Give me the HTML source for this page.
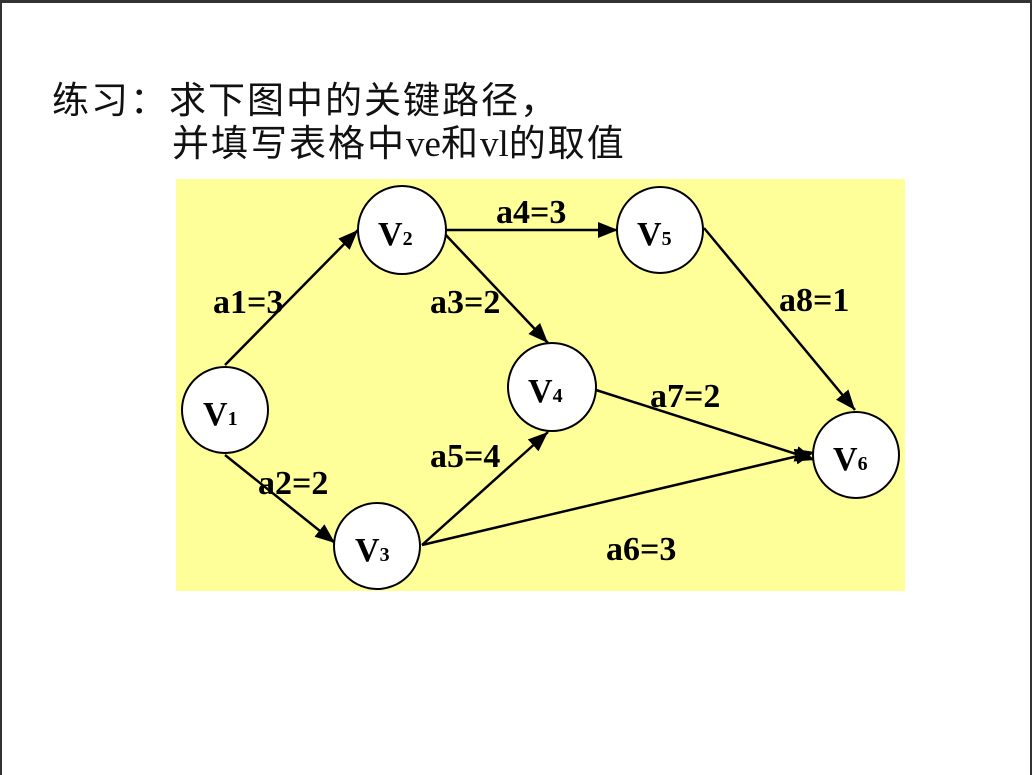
<!DOCTYPE html>
<html><head><meta charset="utf-8"><style>
body{margin:0;width:1032px;height:775px;background:#fff;position:relative;overflow:hidden}
.t{position:absolute;font-family:"Liberation Sans","Noto Sans CJK SC",sans-serif;font-size:37px;letter-spacing:2px;color:#111;white-space:nowrap}
.s{font-family:"Liberation Serif",serif;letter-spacing:0}
</style></head><body>
<div style="position:absolute;left:0;top:0;width:1032px;height:3px;background:#333"></div>
<div style="position:absolute;left:0;top:0;width:2px;height:775px;background:#333"></div>
<div style="position:absolute;left:1030px;top:0;width:2px;height:775px;background:#333"></div>
<div class="t" style="left:52px;top:70px">练习：求下图中的关键路径，</div>
<div class="t" style="left:172px;top:113px">并填写表格中<span class="s">ve</span>和<span class="s">vl</span>的取值</div>
<svg width="1032" height="775" style="position:absolute;left:0;top:0">
<defs><marker id="a" markerWidth="20" markerHeight="16" refX="20" refY="8" orient="auto" markerUnits="userSpaceOnUse" viewBox="0 0 20 16"><path d="M0,0L20,8L0,16z" fill="#000"/></marker></defs>
<rect x="176" y="179" width="729" height="412" fill="#ffff99"/>
<g stroke="#000" stroke-width="2.5" marker-end="url(#a)" fill="none">
<path d="M225,365L358,230"/>
<path d="M225,455L335,543"/>
<path d="M443,232L548,343"/>
<path d="M446,230L618,230"/>
<path d="M422,545L548,432"/>
<path d="M422,545L815,452"/>
<path d="M596,390L815,460"/>
<path d="M704,228L855,410"/>
</g>
<g fill="#fff" stroke="#000" stroke-width="2">
<circle cx="225" cy="410" r="43"/><circle cx="402" cy="230" r="44"/><circle cx="377" cy="546" r="43"/>
<circle cx="552" cy="387" r="44"/><circle cx="660" cy="230" r="43"/><circle cx="856" cy="455" r="43"/>
</g>
<g font-family="Liberation Serif,serif" font-weight="bold" fill="#000" font-size="34">
<text x="203" y="425">V<tspan font-size="20">1</tspan></text>
<text x="378" y="245">V<tspan font-size="20">2</tspan></text>
<text x="355" y="561">V<tspan font-size="20">3</tspan></text>
<text x="528" y="402">V<tspan font-size="20">4</tspan></text>
<text x="637" y="245">V<tspan font-size="20">5</tspan></text>
<text x="833" y="470">V<tspan font-size="20">6</tspan></text>
</g>
<g font-family="Liberation Serif,serif" font-weight="bold" fill="#000" font-size="34">
<text x="213" y="313">a1=3</text>
<text x="258" y="494">a2=2</text>
<text x="430" y="313">a3=2</text>
<text x="496" y="223">a4=3</text>
<text x="430" y="467">a5=4</text>
<text x="606" y="560">a6=3</text>
<text x="650" y="407">a7=2</text>
<text x="779" y="311">a8=1</text>
</g>
</svg>
</body></html>
